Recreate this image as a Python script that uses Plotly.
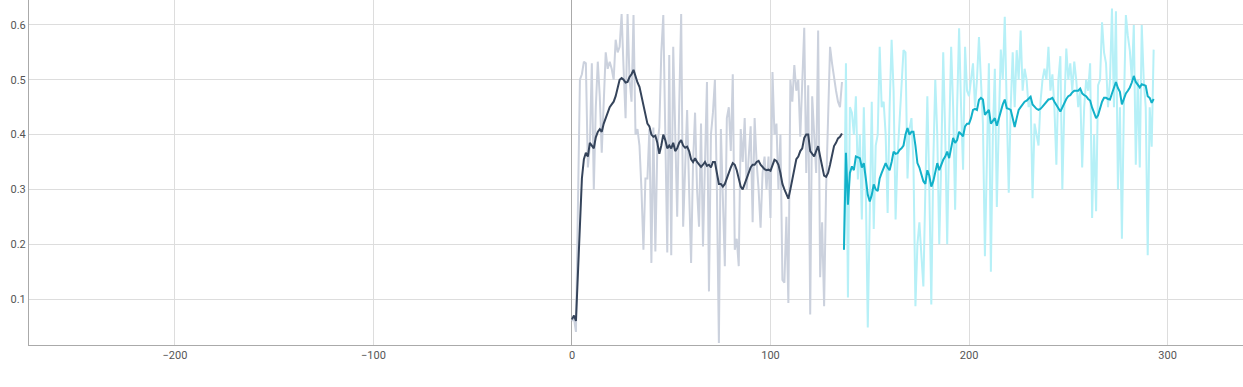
import plotly.graph_objects as go

# ---- data ----
train_x = list(range(0, 137))
train_raw = [0.06, 0.065, 0.04, 0.30, 0.50, 0.51, 0.533, 0.53, 0.34, 0.38,
             0.53, 0.30, 0.45, 0.533, 0.47, 0.367, 0.46, 0.55, 0.52, 0.533,
             0.52, 0.50, 0.573, 0.55, 0.56, 0.62, 0.52, 0.43, 0.62, 0.50,
             0.46, 0.618, 0.40, 0.41, 0.38, 0.30, 0.19, 0.32, 0.32, 0.41,
             0.166, 0.413, 0.187, 0.38, 0.413, 0.55, 0.618, 0.38, 0.185, 0.545,
             0.18, 0.56, 0.40, 0.25, 0.45, 0.62, 0.232, 0.35, 0.445, 0.30,
             0.166, 0.35, 0.44, 0.30, 0.232, 0.42, 0.196, 0.35, 0.496, 0.114,
             0.40, 0.44, 0.50, 0.30, 0.02, 0.41, 0.30, 0.16, 0.43, 0.45,
             0.37, 0.51, 0.19, 0.21, 0.16, 0.41, 0.35, 0.43, 0.30, 0.37,
             0.415, 0.24, 0.43, 0.35, 0.30, 0.23, 0.33, 0.36, 0.30, 0.36,
             0.248, 0.514, 0.40, 0.42, 0.30, 0.40, 0.135, 0.13, 0.25, 0.093,
             0.50, 0.46, 0.527, 0.48, 0.50, 0.396, 0.48, 0.595, 0.33, 0.49,
             0.072, 0.47, 0.40, 0.33, 0.59, 0.14, 0.24, 0.087, 0.30, 0.45,
             0.56, 0.53, 0.50, 0.48, 0.46, 0.45, 0.496]
train_smooth = [0.063, 0.07, 0.06, 0.15, 0.25, 0.32, 0.355, 0.367, 0.36, 0.385,
                0.38, 0.375, 0.395, 0.405, 0.41, 0.405, 0.42, 0.43, 0.44, 0.45,
                0.455, 0.46, 0.47, 0.485, 0.50, 0.503, 0.50, 0.495, 0.496, 0.505,
                0.51, 0.518, 0.505, 0.495, 0.487, 0.47, 0.45, 0.435, 0.42, 0.415,
                0.40, 0.396, 0.398, 0.385, 0.365, 0.38, 0.40, 0.39, 0.375, 0.38,
                0.375, 0.385, 0.37, 0.375, 0.385, 0.39, 0.38, 0.376, 0.378, 0.37,
                0.355, 0.35, 0.357, 0.35, 0.345, 0.341, 0.345, 0.35, 0.343, 0.345,
                0.34, 0.35, 0.35, 0.33, 0.31, 0.31, 0.305, 0.31, 0.32, 0.333,
                0.34, 0.348, 0.345, 0.335, 0.32, 0.305, 0.30, 0.31, 0.32, 0.33,
                0.34, 0.345, 0.345, 0.35, 0.352, 0.345, 0.34, 0.337, 0.335, 0.336,
                0.334, 0.345, 0.354, 0.352, 0.345, 0.33, 0.31, 0.30, 0.29, 0.283,
                0.30, 0.32, 0.34, 0.355, 0.36, 0.37, 0.375, 0.394, 0.40, 0.40,
                0.37, 0.365, 0.36, 0.37, 0.379, 0.36, 0.345, 0.325, 0.323, 0.33,
                0.345, 0.36, 0.379, 0.385, 0.393, 0.396, 0.402]

eval_x = list(range(137, 294))
eval_raw = [0.19, 0.53, 0.103, 0.45, 0.44, 0.40, 0.47, 0.318, 0.40, 0.245,
            0.45, 0.30, 0.048, 0.25, 0.46, 0.228, 0.38, 0.40, 0.56, 0.45,
            0.46, 0.40, 0.257, 0.45, 0.573, 0.48, 0.245, 0.36, 0.43, 0.49,
            0.554, 0.55, 0.32, 0.41, 0.43, 0.35, 0.087, 0.20, 0.24, 0.18,
            0.123, 0.30, 0.47, 0.30, 0.09, 0.35, 0.50, 0.40, 0.20, 0.35,
            0.55, 0.40, 0.20, 0.40, 0.56, 0.45, 0.263, 0.45, 0.594, 0.45,
            0.336, 0.56, 0.48, 0.47, 0.50, 0.53, 0.45, 0.50, 0.578, 0.50,
            0.42, 0.178, 0.35, 0.53, 0.15, 0.40, 0.52, 0.268, 0.42, 0.555,
            0.50, 0.615, 0.45, 0.294, 0.45, 0.55, 0.45, 0.554, 0.50, 0.59,
            0.48, 0.52, 0.50, 0.45, 0.47, 0.284, 0.42, 0.40, 0.38, 0.46,
            0.50, 0.52, 0.50, 0.56, 0.48, 0.51, 0.45, 0.345, 0.50, 0.543,
            0.30, 0.45, 0.557, 0.50, 0.53, 0.48, 0.533, 0.50, 0.45, 0.48,
            0.34, 0.45, 0.50, 0.48, 0.53, 0.248, 0.40, 0.26, 0.49, 0.50,
            0.605, 0.55, 0.53, 0.45, 0.50, 0.63, 0.45, 0.625, 0.30, 0.45,
            0.21, 0.45, 0.618, 0.58, 0.553, 0.50, 0.60, 0.345, 0.50, 0.34,
            0.60, 0.50, 0.45, 0.18, 0.45, 0.378, 0.555]
eval_smooth = [0.19, 0.367, 0.272, 0.33, 0.342, 0.335, 0.36, 0.358, 0.357, 0.34,
               0.348, 0.32, 0.29, 0.278, 0.29, 0.309, 0.30, 0.297, 0.32, 0.33,
               0.34, 0.348, 0.34, 0.335, 0.35, 0.369, 0.365, 0.366, 0.372, 0.375,
               0.38, 0.40, 0.412, 0.40, 0.405, 0.405, 0.38, 0.348, 0.34, 0.325,
               0.315, 0.31, 0.335, 0.325, 0.305, 0.315, 0.335, 0.348, 0.335, 0.345,
               0.354, 0.36, 0.369, 0.357, 0.375, 0.394, 0.385, 0.39, 0.405, 0.40,
               0.397, 0.415, 0.42, 0.42, 0.43, 0.445, 0.447, 0.445, 0.463, 0.467,
               0.464, 0.436, 0.44, 0.445, 0.42, 0.425, 0.43, 0.416, 0.43, 0.44,
               0.455, 0.464, 0.448, 0.447, 0.445, 0.43, 0.414, 0.43, 0.445, 0.45,
               0.455, 0.46, 0.462, 0.466, 0.469, 0.455, 0.45, 0.447, 0.445, 0.447,
               0.451, 0.455, 0.46, 0.464, 0.465, 0.467, 0.46, 0.455, 0.448, 0.442,
               0.45, 0.458, 0.465, 0.47, 0.472, 0.477, 0.48, 0.48, 0.48, 0.484,
               0.475, 0.472, 0.47, 0.465, 0.462, 0.449, 0.44, 0.43, 0.435, 0.45,
               0.46, 0.467, 0.467, 0.465, 0.464, 0.475, 0.485, 0.496, 0.485, 0.478,
               0.455, 0.465, 0.475, 0.48, 0.486, 0.495, 0.507, 0.496, 0.49, 0.486,
               0.492, 0.49, 0.489, 0.47, 0.467, 0.458, 0.465]

x_ticks = [-200, -100, 0, 100, 200, 300]
y_ticks = [0.1, 0.2, 0.3, 0.4, 0.5, 0.6]

fig = go.Figure()
fig.add_trace(go.Scatter(x=train_x, y=train_raw, mode="lines",
                         line=dict(color="#cbd1dd", width=2), hoverinfo="skip"))
fig.add_trace(go.Scatter(x=train_x, y=train_smooth, mode="lines",
                         line=dict(color="#35445b", width=2)))
fig.add_trace(go.Scatter(x=eval_x, y=eval_raw, mode="lines",
                         line=dict(color="#b6f0f7", width=2), hoverinfo="skip"))
fig.add_trace(go.Scatter(x=eval_x, y=eval_smooth, mode="lines",
                         line=dict(color="#12b1c9", width=2)))

fig.update_layout(
    width=1243, height=387,
    margin=dict(l=29, r=0, t=0, b=42),
    paper_bgcolor="white", plot_bgcolor="white",
    showlegend=False,
    font=dict(family="Roboto, Arial, sans-serif", size=11, color="#555555"),
    xaxis=dict(range=[-273.5, 338], tickvals=x_ticks,
               showgrid=True, gridcolor="#dddddd", gridwidth=1,
               zeroline=True, zerolinecolor="#aaaaaa", zerolinewidth=1,
               showline=True, linecolor="#aaaaaa", linewidth=1,
               ticks="", tickfont=dict(size=11, color="#555555")),
    yaxis=dict(range=[0.0162, 0.6455], tickvals=y_ticks,
               showgrid=True, gridcolor="#dddddd", gridwidth=1,
               zeroline=False,
               showline=True, linecolor="#aaaaaa", linewidth=1,
               ticks="", tickfont=dict(size=11, color="#555555")),
)

fig.write_html("out.html")
